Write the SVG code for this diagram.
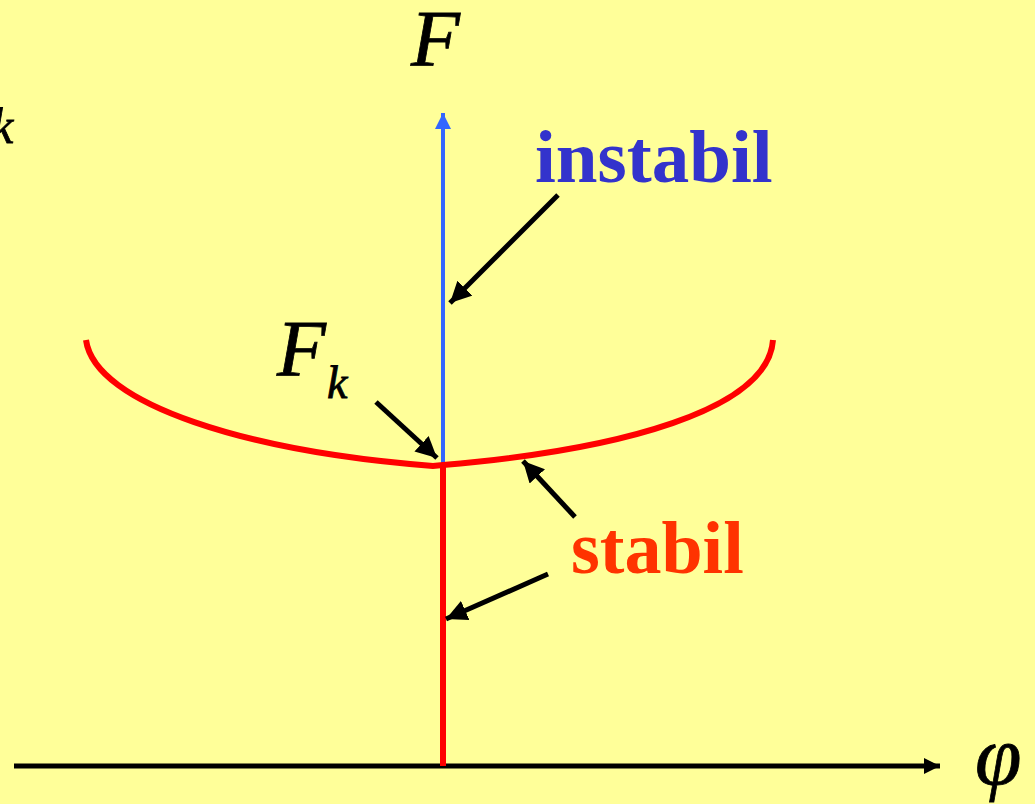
<svg xmlns="http://www.w3.org/2000/svg" width="1035" height="804" viewBox="0 0 1035 804">
<defs>
<marker id="ah" viewBox="0 0 10 10" refX="10" refY="5" markerWidth="4.2" markerHeight="4.2" orient="auto" markerUnits="strokeWidth"><path d="M0,0 L10,5 L0,10 z" fill="#000"/></marker>
<marker id="ahb" viewBox="0 0 10 10" refX="10" refY="5" markerWidth="4" markerHeight="4" orient="auto" markerUnits="strokeWidth"><path d="M0,0 L10,5 L0,10 z" fill="#3366FF"/></marker>
<marker id="ahx" viewBox="0 0 10 10" refX="10" refY="5" markerWidth="3.8" markerHeight="3.2" orient="auto" markerUnits="strokeWidth"><path d="M0,0 L10,5 L0,10 z" fill="#000"/></marker>
</defs>
<style>
.it{font-family:"Liberation Serif",serif;font-style:italic;fill:#000;stroke:#000;stroke-width:0.8}
.bd{font-family:"Liberation Serif",serif;font-weight:bold}
.ptr{stroke:#000;stroke-width:5;fill:none;marker-end:url(#ah)}
</style>
<rect width="1035" height="804" fill="#FFFF99"/>
<g id="connectors">
<line x1="14" y1="766" x2="940" y2="766" stroke="#000" stroke-width="5" marker-end="url(#ahx)"/>
<line x1="443" y1="466" x2="443" y2="113" stroke="#3366FF" stroke-width="4" marker-end="url(#ahb)"/>
<line x1="443" y1="466" x2="443" y2="766" stroke="#FF0000" stroke-width="6"/>
<path d="M86,340 C95,405 250,452 433,466 L443,465 C620,450 768,410 773,340" stroke="#FF0000" stroke-width="6" fill="none"/>
<line class="ptr" x1="558" y1="195" x2="450" y2="303"/>
<line class="ptr" x1="376" y1="402" x2="437" y2="458"/>
<line class="ptr" x1="575" y1="517" x2="523" y2="461"/>
<line class="ptr" x1="548" y1="574" x2="446" y2="619"/>
</g>
<g id="label-F"><text class="it" x="411" y="66" font-size="80">F</text></g>
<g id="label-k-left"><text class="it" x="-9" y="143" font-size="50">k</text></g>
<g id="label-instabil"><text class="bd" x="535" y="182" font-size="75" fill="#3333CC">instabil</text></g>
<g id="label-Fk"><text class="it" x="277" y="376" font-size="80">F</text><text class="it" x="327" y="398" font-size="46">k</text></g>
<g id="label-stabil"><text class="bd" x="571" y="573" font-size="74" fill="#FF3300">stabil</text></g>
<g id="label-phi"><text class="it" x="975" y="784" font-size="84">φ</text></g>
</svg>
